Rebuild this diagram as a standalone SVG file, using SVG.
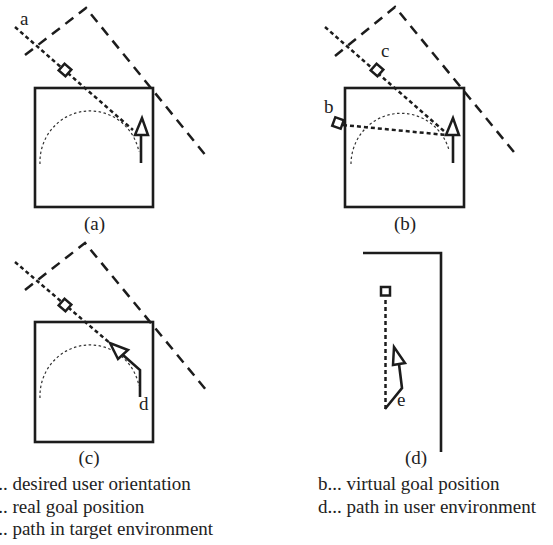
<svg xmlns="http://www.w3.org/2000/svg" width="553" height="545" viewBox="0 0 553 545">
  <style>
    .room { fill: none; stroke: #1c1c1c; stroke-width: 2.6; }
    .wall { fill: none; stroke: #1c1c1c; stroke-width: 2.6; }
    .orient { fill: none; stroke: #1c1c1c; stroke-width: 2.5; stroke-dasharray: 10 7; }
    .goal-line { fill: none; stroke: #1c1c1c; stroke-width: 2.5; stroke-dasharray: 4 3; }
    .track { fill: none; stroke: #333; stroke-width: 1.2; stroke-dasharray: 2.5 2.5; }
    .goal { fill: #fff; stroke: #1c1c1c; stroke-width: 2.5; }
    .path { fill: none; stroke: #1c1c1c; stroke-width: 2.6; stroke-linejoin: miter; }
    .head { fill: #fff; stroke: #1c1c1c; stroke-width: 2.5; stroke-linejoin: miter; }
    text { font-family: "Liberation Serif", "Times New Roman", serif; font-size: 19px; fill: #222; }
    .mid { text-anchor: middle; }
  </style>

  <!-- panel (a) -->
  <g id="panel-a">
    <rect class="room" x="35" y="88" width="118" height="119"/>
    <path class="orient" d="M25,55 L86,8 L207,157"/>
    <path class="goal-line" d="M15,27 L133,130"/>
    <path class="track" d="M40,164 A50,51 0 0 1 139,152"/>
    <rect class="goal" x="-4.5" y="-4.5" width="9" height="9" transform="translate(65,70) rotate(41)"/>
    <path class="path" d="M141,163 V135"/>
    <polygon class="head" points="142,118 135,135 148,135"/>
    <text x="20" y="25">a</text>
    <text class="mid" x="94.5" y="230">(a)</text>
  </g>

  <!-- panel (b) -->
  <g id="panel-b">
    <rect class="room" x="345" y="88" width="119" height="119"/>
    <path class="orient" d="M335,56 L395,7 L518,157"/>
    <path class="goal-line" d="M325,27 L445,132"/>
    <path class="track" d="M351,164 A50,51 0 0 1 449,150"/>
    <rect class="goal" x="-4.5" y="-4.5" width="9" height="9" transform="translate(377,70) rotate(41)"/>
    <path class="goal-line" d="M343,125 L446,135"/>
    <rect class="goal" x="-4.5" y="-4.5" width="9" height="9" transform="translate(338,123) rotate(20)"/>
    <path class="path" d="M453,163 V135"/>
    <polygon class="head" points="453,118 446,135 459,135"/>
    <text x="381" y="57">c</text>
    <text x="324" y="113">b</text>
    <text class="mid" x="405" y="230">(b)</text>
  </g>

  <!-- panel (c) -->
  <g id="panel-c">
    <rect class="room" x="35" y="322" width="118" height="120"/>
    <path class="orient" d="M25,290 L85,243 L207,391"/>
    <path class="goal-line" d="M15,262 L111,344"/>
    <path class="track" d="M40,398 A50,51 0 0 1 139,386"/>
    <rect class="goal" x="-4.5" y="-4.5" width="9" height="9" transform="translate(65,305) rotate(41)"/>
    <path class="path" d="M140,397 V370 L123,355"/>
    <polygon class="head" points="110,343 118,359 128,350"/>
    <text x="139" y="410">d</text>
    <text class="mid" x="89" y="464">(c)</text>
  </g>

  <!-- panel (d) -->
  <g id="panel-d">
    <path class="wall" d="M363,253 H441 V452"/>
    <path class="goal-line" d="M385.5,300 V409"/>
    <rect class="goal" x="381" y="287" width="9" height="8.5"/>
    <path class="path" d="M385,409 L402,388 L399,364"/>
    <polygon class="head" points="394,347 393,365 405,363"/>
    <text x="397" y="406">e</text>
    <text class="mid" x="416" y="464">(d)</text>
  </g>

  <!-- legend -->
  <g id="legend">
    <text x="-15" y="490">a... desired user orientation</text>
    <text x="-15" y="513">c... real goal position</text>
    <text x="-15" y="535">e... path in target environment</text>
    <text x="318" y="490">b... virtual goal position</text>
    <text x="318" y="513">d... path in user environment</text>
  </g>
</svg>
